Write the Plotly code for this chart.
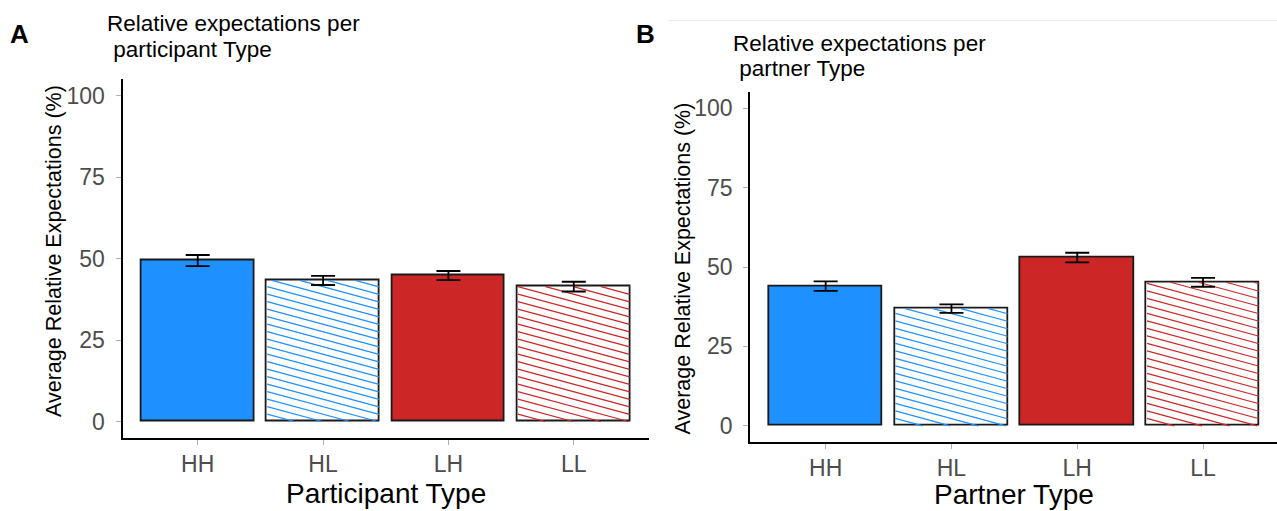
import plotly.graph_objects as go

# ---------------- data ----------------
categories = ["HH", "HL", "LH", "LL"]
participant_mean = [49.4, 43.3, 44.8, 41.4]
participant_err = [1.7, 1.4, 1.4, 1.5]
partner_mean = [44.0, 36.9, 53.0, 45.2]
partner_err = [1.5, 1.35, 1.5, 1.4]
y_tick_vals = [0, 25, 50, 75, 100]
hatched = [False, True, False, True]
bar_colors = ["#1E90FF", "#1E90FF", "#CD2626", "#CD2626"]

panel_letters = ["A", "B"]
title_lines_a = ["Relative expectations per", "\u00a0participant Type"]
title_lines_b = ["Relative expectations per", "\u00a0partner Type"]
x_titles = ["Participant Type", "Partner Type"]
y_title = "Average Relative Expectations (%)"

# ---------------- style / geometry ----------------
W, H = 1277, 511
FONT = "Liberation Sans, Arial, sans-serif"
TICK_COLOR = "#4D4D4D"
BAR_W = 0.9
Y_RANGE = [-5, 105]

# panel pixel geometry
panels = [
    dict(xl=122.5, xr=649.0, xmax=3.6, y0=421.5, y100=95.7),
    dict(xl=750.2, xr=1277.0, xmax=3.588, y0=425.8, y100=108.3),
]

positions = list(range(len(categories)))

fig = go.Figure()


def hatch_xy(means, px_x, px_y, slope_px=0.27, spacing_px=7.5):
    k = slope_px * px_x / px_y
    sp = spacing_px / px_y
    w = BAR_W
    xs, ys = [], []
    for pos, v in zip(positions, means):
        if v <= 0:
            continue
        xl = pos - w / 2
        inset = 0.004
        j = 1
        while j * sp < v + k * w:
            b = j * sp
            t0 = max(inset, (b - v) / k)
            t1 = min(w - inset, b / k)
            if t1 > t0:
                xs += [xl + t0, xl + t1, None]
                ys += [b - k * t0, b - k * t1, None]
            j += 1
    return xs, ys


series = [(participant_mean, participant_err), (partner_mean, partner_err)]
for i, ((means, errs), p) in enumerate(zip(series, panels)):
    xa = "x" if i == 0 else "x2"
    ya = "y" if i == 0 else "y2"
    fills = ["white" if h else c for h, c in zip(hatched, bar_colors)]
    fig.add_trace(go.Bar(
        x=positions, y=means, width=BAR_W, xaxis=xa, yaxis=ya,
        marker=dict(color=fills, line=dict(color="#1a1a1a", width=1.8)),
        showlegend=False, hoverinfo="skip"))
    px_x = (p["xr"] - p["xl"]) / (p["xmax"] + 0.6)
    px_y = (p["y0"] - p["y100"]) / 100.0
    for col in sorted(set(c for c, h in zip(bar_colors, hatched) if h)):
        sub = [m if (h and c == col) else 0 for m, h, c in zip(means, hatched, bar_colors)]
        hx, hy = hatch_xy(sub, px_x, px_y)
        fig.add_trace(go.Scatter(
            x=hx, y=hy, mode="lines", xaxis=xa, yaxis=ya,
            line=dict(color=col, width=1.2), showlegend=False, hoverinfo="skip"))
    fig.add_trace(go.Scatter(
        x=positions, y=means, mode="markers", xaxis=xa, yaxis=ya,
        marker=dict(size=1, opacity=0),
        error_y=dict(type="data", array=errs, color="black", thickness=1.8, width=12),
        showlegend=False, hoverinfo="skip"))

layout_axes = {}
for i, p in enumerate(panels):
    px_y = (p["y0"] - p["y100"]) / 100.0
    y_bot = p["y0"] + 5 * px_y
    y_top = p["y100"] - 5 * px_y
    xdom = [p["xl"] / W, min(1.0, p["xr"] / W)]
    ydom = [1 - y_bot / H, 1 - y_top / H]
    suffix = "" if i == 0 else "2"
    layout_axes["xaxis" + suffix] = dict(
        domain=xdom, range=[-0.6, p["xmax"]], anchor="y" + suffix,
        tickvals=positions, ticktext=categories,
        showline=True, linecolor="black", linewidth=2,
        ticks="outside", ticklen=5, tickcolor="#b0b0b0", tickwidth=1,
        tickfont=dict(family=FONT, size=23, color=TICK_COLOR),
        showgrid=False, zeroline=False)
    layout_axes["yaxis" + suffix] = dict(
        domain=ydom, range=Y_RANGE, anchor="x" + suffix,
        tickvals=y_tick_vals,
        showline=True, linecolor="black", linewidth=2,
        ticks="outside", ticklen=5, tickcolor="#b0b0b0", tickwidth=1,
        ticklabelstandoff=6,
        tickfont=dict(family=FONT, size=23, color=TICK_COLOR),
        showgrid=False, zeroline=False)

annotations = []


def ann(text, x_px, y_px, size, xanchor="left", bold=False, angle=0, color="black"):
    annotations.append(dict(
        text=("<b>%s</b>" % text) if bold else text,
        x=x_px / W, y=1 - y_px / H, xref="paper", yref="paper",
        xanchor=xanchor, yanchor="middle", showarrow=False, textangle=angle,
        font=dict(family=FONT, size=size, color=color), borderpad=0))


# panel letters
ann(panel_letters[0], 9, 34, 26, bold=True)
ann(panel_letters[1], 635, 34, 26, bold=True)
# titles
ann(title_lines_a[0], 106, 23.8, 22.5)
ann(title_lines_a[1], 106, 49.5, 22.5)
ann(title_lines_b[0], 732, 43.2, 22.5)
ann(title_lines_b[1], 732, 69, 22.5)
# x titles
ann(x_titles[0], (panels[0]["xl"] + panels[0]["xr"]) / 2, 493, 28, xanchor="center")
ann(x_titles[1], (panels[1]["xl"] + 1278.5) / 2, 494, 28, xanchor="center")
# y titles
ann(y_title, 54, 251, 21.5, xanchor="center", angle=-90)
ann(y_title, 682.5, 269, 21.5, xanchor="center", angle=-90)

fig.update_layout(
    width=W, height=H, margin=dict(l=0, r=0, t=0, b=0),
    paper_bgcolor="white", plot_bgcolor="white",
    bargap=0, annotations=annotations,
    shapes=[dict(type="line", xref="paper", yref="paper",
                 x0=668 / W, x1=1.0, y0=1 - 20.7 / H, y1=1 - 20.7 / H,
                 line=dict(color="#ececec", width=1))],
    **layout_axes)

fig.write_html("out.html")
